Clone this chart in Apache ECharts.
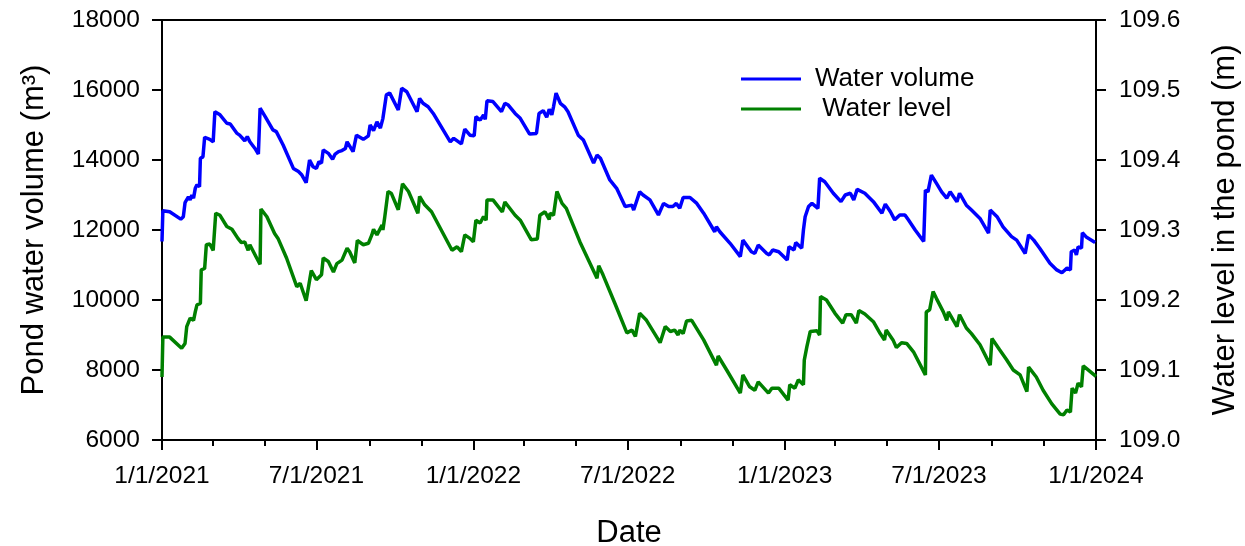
<!DOCTYPE html>
<html>
<head>
<meta charset="utf-8">
<script src="https://cdn.jsdelivr.net/npm/echarts@6/dist/echarts.min.js"></script>
<style>
  html, body { margin: 0; padding: 0; background: #fff; }
  #chart { width: 1245px; height: 546px; }
</style>
</head>
<body>
<div id="chart"></div>
<script>
// Pond record, 2021-2023. Days are counted from 1 Jan 2021.
const volumeDays = [0, 1, 9, 22, 25, 27, 31, 33, 35, 37, 39, 41, 44, 45, 48, 50, 56, 60, 62, 68, 76, 80, 88, 91, 97, 100, 103, 109, 113, 115, 121, 130, 134, 142, 154, 160, 164, 169, 173, 177, 181, 184, 187, 189, 195, 200, 203, 207, 211, 215, 217, 224, 228, 236, 242, 244, 248, 252, 256, 259, 263, 267, 277, 281, 287, 299, 302, 306, 312, 318, 338, 342, 351, 355, 361, 366, 368, 373, 377, 379, 381, 388, 398, 402, 406, 414, 420, 431, 439, 442, 447, 451, 454, 457, 459, 462, 467, 472, 476, 488, 494, 506, 510, 514, 525, 533, 543, 551, 553, 560, 564, 572, 582, 588, 594, 599, 603, 607, 611, 619, 627, 635, 648, 650, 654, 666, 678, 681, 691, 695, 699, 709, 712, 716, 723, 733, 735, 741, 743, 750, 752, 754, 758, 762, 769, 771, 777, 787, 796, 801, 807, 811, 815, 824, 834, 844, 848, 854, 859, 865, 871, 875, 883, 893, 895, 898, 902, 908, 914, 920, 924, 932, 935, 943, 949, 959, 969, 971, 979, 986, 996, 1002, 1012, 1016, 1022, 1029, 1041, 1049, 1055, 1061, 1065, 1066, 1070, 1072, 1074, 1078, 1079, 1084, 1094];
const volume = [11670, 12550, 12520, 12310, 12380, 12780, 12950, 12860, 13000, 12910, 13190, 13290, 13240, 14050, 14090, 14650, 14590, 14520, 15380, 15290, 15050, 15030, 14760, 14710, 14550, 14670, 14520, 14330, 14170, 15480, 15240, 14860, 14810, 14430, 13760, 13670, 13570, 13350, 14000, 13810, 13760, 13950, 13910, 14290, 14190, 14020, 14170, 14240, 14270, 14330, 14520, 14240, 14710, 14590, 14690, 15000, 14840, 15090, 14910, 15190, 15860, 15910, 15430, 16050, 15950, 15380, 15760, 15620, 15520, 15330, 14520, 14620, 14460, 14880, 14710, 14690, 15240, 15140, 15290, 15160, 15690, 15670, 15380, 15620, 15570, 15330, 15190, 14740, 14760, 15330, 15410, 15220, 15450, 15290, 15520, 15910, 15620, 15520, 15380, 14710, 14570, 13910, 14140, 14050, 13430, 13190, 12670, 12710, 12570, 13090, 13000, 12860, 12430, 12760, 12670, 12670, 12760, 12620, 12930, 12930, 12760, 12480, 11950, 12090, 11950, 11620, 11240, 11710, 11380, 11330, 11570, 11330, 11290, 11430, 11380, 11140, 11520, 11430, 11640, 11480, 12000, 12380, 12670, 12760, 12620, 13480, 13380, 13050, 12810, 13000, 13050, 12860, 13160, 13050, 12810, 12480, 12740, 12520, 12290, 12430, 12430, 12290, 12000, 11670, 13140, 13090, 13570, 13330, 13090, 12910, 13090, 12810, 13050, 12710, 12570, 12330, 11910, 12570, 12380, 12090, 11810, 11710, 11330, 11860, 11710, 11480, 11050, 10860, 10780, 10910, 10860, 11380, 11430, 11290, 11520, 11480, 11920, 11790, 11640];

const levelDays = [0, 1, 9, 23, 27, 29, 33, 37, 39, 41, 45, 46, 50, 52, 56, 60, 63, 68, 76, 82, 89, 93, 97, 101, 103, 111, 115, 116, 123, 132, 136, 146, 158, 162, 169, 175, 181, 187, 189, 195, 201, 205, 211, 217, 220, 226, 229, 236, 242, 246, 248, 252, 258, 259, 261, 265, 269, 277, 282, 289, 300, 302, 308, 316, 340, 346, 351, 355, 361, 365, 368, 373, 377, 380, 381, 388, 399, 402, 414, 420, 433, 440, 443, 449, 454, 455, 459, 463, 469, 474, 490, 510, 512, 517, 531, 545, 551, 555, 560, 568, 584, 590, 596, 601, 605, 607, 611, 615, 621, 635, 650, 652, 662, 678, 681, 689, 695, 699, 711, 715, 723, 734, 736, 742, 746, 752, 753, 756, 760, 768, 771, 772, 779, 789, 798, 802, 808, 814, 817, 824, 834, 842, 847, 849, 857, 861, 867, 873, 881, 895, 896, 900, 904, 908, 916, 920, 922, 932, 935, 943, 949, 959, 971, 973, 982, 990, 998, 1006, 1014, 1016, 1025, 1033, 1043, 1053, 1057, 1061, 1065, 1067, 1071, 1074, 1078, 1080, 1084, 1095];
const level = [109.090, 109.147, 109.147, 109.131, 109.138, 109.162, 109.174, 109.171, 109.183, 109.193, 109.195, 109.243, 109.245, 109.279, 109.280, 109.271, 109.324, 109.321, 109.305, 109.301, 109.288, 109.282, 109.283, 109.271, 109.279, 109.260, 109.251, 109.330, 109.319, 109.295, 109.288, 109.260, 109.219, 109.224, 109.199, 109.242, 109.229, 109.236, 109.260, 109.255, 109.240, 109.252, 109.257, 109.274, 109.269, 109.253, 109.285, 109.279, 109.281, 109.293, 109.301, 109.293, 109.307, 109.300, 109.317, 109.355, 109.352, 109.329, 109.366, 109.355, 109.324, 109.348, 109.336, 109.326, 109.271, 109.276, 109.269, 109.293, 109.288, 109.283, 109.314, 109.310, 109.319, 109.314, 109.343, 109.343, 109.326, 109.340, 109.321, 109.314, 109.286, 109.287, 109.321, 109.326, 109.315, 109.324, 109.321, 109.355, 109.338, 109.331, 109.283, 109.231, 109.249, 109.236, 109.195, 109.153, 109.157, 109.148, 109.181, 109.171, 109.139, 109.162, 109.155, 109.157, 109.150, 109.157, 109.152, 109.170, 109.171, 109.143, 109.107, 109.120, 109.100, 109.067, 109.093, 109.076, 109.071, 109.083, 109.067, 109.074, 109.074, 109.057, 109.079, 109.074, 109.086, 109.079, 109.114, 109.133, 109.155, 109.156, 109.150, 109.205, 109.200, 109.181, 109.167, 109.179, 109.179, 109.167, 109.185, 109.180, 109.169, 109.152, 109.143, 109.157, 109.143, 109.132, 109.139, 109.138, 109.126, 109.093, 109.183, 109.186, 109.212, 109.202, 109.183, 109.171, 109.183, 109.162, 109.179, 109.160, 109.152, 109.136, 109.107, 109.145, 109.129, 109.115, 109.100, 109.093, 109.069, 109.104, 109.090, 109.071, 109.052, 109.037, 109.036, 109.043, 109.040, 109.074, 109.067, 109.081, 109.076, 109.106, 109.102, 109.091];

// Date axis: short ticks every two months, labelled ticks every six months
const tickDates = ['2021-01-01', '2021-03-01', '2021-05-01', '2021-07-01', '2021-09-01', '2021-11-01',
                   '2022-01-01', '2022-03-01', '2022-05-01', '2022-07-01', '2022-09-01', '2022-11-01',
                   '2023-01-01', '2023-03-01', '2023-05-01', '2023-07-01', '2023-09-01', '2023-11-01', '2024-01-01'];
const labelDates = ['2021-01-01', '2021-07-01', '2022-01-01', '2022-07-01', '2023-01-01', '2023-07-01', '2024-01-01'];
const tickLabels = ['1/1/2021', '7/1/2021', '1/1/2022', '7/1/2022', '1/1/2023', '7/1/2023', '1/1/2024'];

const DAY = 86400000;
const dayOf = s => Math.round((Date.parse(s + 'T00:00:00Z') - Date.parse('2021-01-01T00:00:00Z')) / DAY);
const volumeData = volumeDays.map((d, i) => [d, volume[i]]);
const levelData = levelDays.map((d, i) => [d, level[i]]);
const tickDayValues = tickDates.map(dayOf);
const labelDayValues = labelDates.map(dayOf);
const labelByDay = {};
labelDayValues.forEach((d, i) => { labelByDay[d] = tickLabels[i]; });
const firstDay = dayOf('2021-01-01');
const lastDay = dayOf('2024-01-01');

const FONT = 'Liberation Sans, Arial, sans-serif';
const BLACK = '#000';
const TICK_FONT = 24.5;
const TITLE_FONT = 31;
const axisLine = { show: true, onZero: false, lineStyle: { color: BLACK, width: 2 } };

const chart = echarts.init(document.getElementById('chart'), null, { renderer: 'canvas' });
chart.setOption({
  animation: false,
  backgroundColor: '#fff',
  textStyle: { fontFamily: FONT, color: BLACK },
  grid: {
    left: 162, right: 149, top: 20, bottom: 106,
    outerBoundsMode: 'none',
    containLabel: false,
    show: true, borderColor: BLACK, borderWidth: 2
  },
  legend: {
    orient: 'vertical',
    left: 736,
    top: 61,
    icon: 'rect',
    itemWidth: 60,
    itemHeight: 3,
    itemGap: 4,
    formatter: name => (name === 'Water level' ? ' ' + name : name),
    textStyle: { fontSize: 26, color: BLACK, fontFamily: FONT, padding: [0, 0, 0, 9] },
    data: ['Water volume', 'Water level']
  },
  xAxis: [
    {
      type: 'value',
      min: firstDay,
      max: lastDay,
      position: 'bottom',
      axisLine: axisLine,
      axisTick: { show: true, customValues: labelDayValues, length: 10, lineStyle: { color: BLACK, width: 2 } },
      axisLabel: {
        customValues: labelDayValues,
        formatter: v => labelByDay[v] || '',
        fontSize: TICK_FONT, color: BLACK, fontFamily: FONT, margin: 24
      },
      splitLine: { show: false },
      name: 'Date',
      nameLocation: 'middle',
      nameGap: 78,
      nameTextStyle: { fontSize: TITLE_FONT, color: BLACK, fontFamily: FONT }
    },
    {
      type: 'value',
      min: firstDay,
      max: lastDay,
      position: 'bottom',
      axisLine: { show: false },
      axisTick: { show: true, customValues: tickDayValues, length: 6, lineStyle: { color: BLACK, width: 2 } },
      axisLabel: { show: false },
      splitLine: { show: false }
    }
  ],
  yAxis: [
    {
      type: 'value',
      position: 'left',
      min: 6000, max: 18000, interval: 2000,
      axisLine: axisLine,
      axisTick: { show: true, length: 10, lineStyle: { color: BLACK, width: 2 } },
      axisLabel: { fontSize: TICK_FONT, color: BLACK, fontFamily: FONT, margin: 22, formatter: v => String(v) },
      splitLine: { show: false },
      name: 'Pond water volume (m³)',
      nameLocation: 'middle',
      nameRotate: 90,
      nameGap: 112,
      nameTextStyle: { fontSize: TITLE_FONT, color: BLACK, fontFamily: FONT }
    },
    {
      type: 'value',
      position: 'right',
      min: 109.0, max: 109.6, interval: 0.1,
      axisLine: axisLine,
      axisTick: { show: true, length: 10, lineStyle: { color: BLACK, width: 2 } },
      axisLabel: { fontSize: TICK_FONT, color: BLACK, fontFamily: FONT, margin: 23, formatter: v => v.toFixed(1) },
      splitLine: { show: false },
      name: 'Water level in the pond (m)',
      nameLocation: 'middle',
      nameRotate: 90,
      nameGap: 114,
      nameTextStyle: { fontSize: TITLE_FONT, color: BLACK, fontFamily: FONT }
    }
  ],
  series: [
    {
      name: 'Water volume',
      type: 'line',
      xAxisIndex: 0,
      yAxisIndex: 0,
      data: volumeData,
      color: '#0000ff',
      showSymbol: false,
      symbol: 'none',
      lineStyle: { color: '#0000ff', width: 3.5 }
    },
    {
      name: 'Water level',
      type: 'line',
      xAxisIndex: 0,
      yAxisIndex: 1,
      data: levelData,
      color: '#008000',
      showSymbol: false,
      symbol: 'none',
      lineStyle: { color: '#008000', width: 3.5 }
    }
  ]
});
</script>
</body>
</html>
